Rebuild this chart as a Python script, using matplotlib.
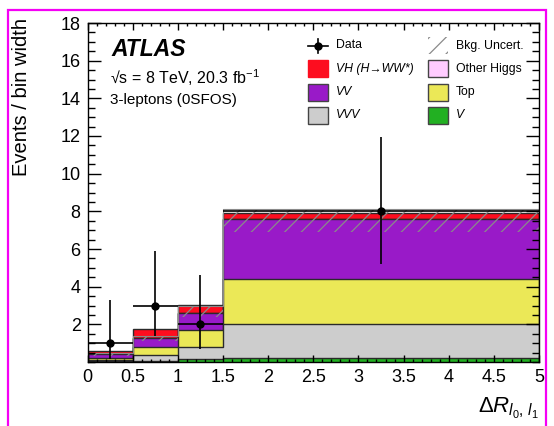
import numpy as np
import matplotlib
matplotlib.use('Agg')
import matplotlib.pyplot as plt
from matplotlib.patches import Rectangle
from matplotlib.lines import Line2D
from matplotlib.ticker import MultipleLocator

plt.rcParams['font.family'] = ['Liberation Sans', 'DejaVu Sans']
plt.rcParams['mathtext.fontset'] = 'custom'
plt.rcParams['mathtext.rm'] = 'Liberation Sans'
plt.rcParams['mathtext.it'] = 'Liberation Sans:italic'
plt.rcParams['mathtext.bf'] = 'Liberation Sans:bold'
plt.rcParams['hatch.linewidth'] = 0.9

# bins in Delta R(l0, l1)
edges = [0.0, 0.5, 1.0, 1.5, 5.0]

# background contributions per bin (events / bin width), bottom to top of the stack
v_bkg = [0.03, 0.05, 0.15, 0.22]
vvv = [0.09, 0.32, 0.65, 1.80]
top = [0.10, 0.43, 0.90, 2.38]
vv = [0.18, 0.45, 0.90, 3.18]
other_higgs = [0.005, 0.005, 0.01, 0.02]
vh = [0.18, 0.50, 0.42, 0.33]

# hatched background uncertainty band
unc_lo = [0.30, 1.10, 2.40, 6.90]
unc_hi = [0.48, 1.40, 2.95, 8.15]

# data with asymmetric (Poisson) errors
data = [1, 3, 2, 8]
data_err_lo = [0.83, 1.63, 1.29, 2.77]
data_err_hi = [2.30, 2.92, 2.64, 3.96]

layers = [
    (v_bkg, '#22b022'),
    (vvv, '#cdcdcd'),
    (top, '#ebe857'),
    (vv, '#991ac8'),
    (other_higgs, '#ffccff'),
    (vh, '#fd0d1f'),
]

W, H = 554, 426
fig = plt.figure(figsize=(W / 100, H / 100), dpi=100)


def fx(px):
    return px / W


def fy(py):
    return 1 - py / H


ax_l, ax_r, ax_t, ax_b = 87.6, 539.0, 23.0, 362.0
ax = fig.add_axes([fx(ax_l), fy(ax_b), fx(ax_r - ax_l), (ax_b - ax_t) / H])

edges = np.array(edges)
cum = np.cumsum([np.array(v) for v, c in layers], axis=0)

# draw like a ROOT THStack: largest cumulative first, each filled from zero
for i in range(len(layers) - 1, -1, -1):
    ax.stairs(cum[i], edges, baseline=0, fill=True, facecolor=layers[i][1],
              edgecolor='#2a2a2a', linewidth=1.0)

ax.stairs(unc_hi, edges, baseline=unc_lo, fill=True, facecolor='none',
          edgecolor='#8a8a8a', hatch='//', linewidth=0)
ax.stairs(unc_hi, edges, baseline=None, color='#8a8a8a', linewidth=0.8)

centers = 0.5 * (edges[1:] + edges[:-1])
halfw = 0.5 * np.diff(edges)
ax.errorbar(centers, data, yerr=[data_err_lo, data_err_hi], xerr=halfw,
            fmt='o', color='black', ms=5, lw=1.2, capsize=0, zorder=5)

ax.set_xlim(0, 5)
ax.set_ylim(0, 18)
ax.set_yticks(np.arange(2, 19, 2))
ax.xaxis.set_major_locator(MultipleLocator(0.5))
ax.xaxis.set_minor_locator(MultipleLocator(0.1))
ax.yaxis.set_minor_locator(MultipleLocator(0.5))
ax.set_xticks([0, 0.5, 1, 1.5, 2, 2.5, 3, 3.5, 4, 4.5, 5])
ax.set_xticklabels(['0', '0.5', '1', '1.5', '2', '2.5', '3', '3.5', '4', '4.5', '5'])
ax.tick_params(axis='both', which='both', direction='in', top=True, right=True,
               width=1.0, labelsize=13)
ax.tick_params(axis='y', which='major', length=9.5, pad=5)
ax.tick_params(axis='y', which='minor', length=5)
ax.tick_params(axis='x', which='major', length=5, pad=5)
ax.tick_params(axis='x', which='minor', length=2.5)
for s in ax.spines.values():
    s.set_linewidth(1.0)

ax.set_ylabel('Events / bin width', fontsize=14.5, ha='right')
ax.yaxis.set_label_coords((31 - ax_l) / (ax_r - ax_l), (ax_b - 18) / (ax_b - ax_t))
ax.set_xlabel(r'$\mathit{\Delta R}_{l_{0},\, l_{1}}$', fontsize=16, ha='right')
ax.xaxis.set_label_coords(1.0, (ax_b - 396) / (ax_b - ax_t))

# ATLAS label block
fig.text(fx(111), fy(49.5), 'ATLAS', fontsize=16.5, fontweight='bold',
         fontstyle='italic', va='center')
fig.text(fx(110), fy(84), '\u221as = 8 TeV, 20.3 fb$^{-1}$', fontsize=11.5,
         va='baseline')
fig.text(fx(110), fy(104), '3-leptons (0SFOS)', fontsize=11, va='baseline')

# legend, drawn by hand in two columns
rows = [45.5, 68.8, 92.1, 115.4]
bw, bh = 20, 17
col_x = [308.3, 428.3]
text_x = [336, 456]
lsize = 8.8

# Data entry
y0 = rows[0]
fig.add_artist(Line2D([fx(col_x[0]), fx(col_x[0] + bw)], [fy(y0), fy(y0)],
                      color='black', lw=1.2, transform=fig.transFigure))
fig.add_artist(Line2D([fx(col_x[0] + bw / 2)] * 2, [fy(y0 - 7), fy(y0 + 7)],
                      color='black', lw=1.2, transform=fig.transFigure))
fig.add_artist(Line2D([fx(col_x[0] + bw / 2)], [fy(y0)], marker='o', ms=5,
                      color='black', transform=fig.transFigure))
fig.text(fx(text_x[0]), fy(y0), 'Data', fontsize=lsize, va='center')

# Bkg. Uncert. entry
fig.add_artist(Rectangle((fx(col_x[1]), fy(y0 + bh / 2)), bw / W, bh / H,
                         facecolor='none', edgecolor='#8a8a8a', hatch='//',
                         lw=0, transform=fig.transFigure))
fig.text(fx(text_x[1]), fy(y0), 'Bkg. Uncert.', fontsize=lsize, va='center')

entries = [
    (0, 1, '#fd0d1f', 'VH (H\u2192WW*)', 'italic', False),
    (1, 1, '#ffccff', 'Other Higgs', 'normal', True),
    (0, 2, '#991ac8', 'VV', 'italic', True),
    (1, 2, '#ebe857', 'Top', 'normal', True),
    (0, 3, '#cdcdcd', 'VVV', 'italic', True),
    (1, 3, '#22b022', 'V', 'italic', True),
]
for col, row, color, label, style, edge in entries:
    y = rows[row]
    fig.add_artist(Rectangle((fx(col_x[col]), fy(y + bh / 2)), bw / W, bh / H,
                             facecolor=color,
                             edgecolor='#444444' if edge else color,
                             lw=1.0, transform=fig.transFigure))
    fig.text(fx(text_x[col]), fy(y), label, fontsize=lsize, fontstyle=style,
             va='center')

# magenta frame around the figure
fig.add_artist(Rectangle((fx(8), -0.1), fx(546 - 8), fy(9.5) + 0.1,
                         facecolor='none', edgecolor='#f500f5', lw=1.6,
                         transform=fig.transFigure))

fig.savefig('out.png', dpi=100)
